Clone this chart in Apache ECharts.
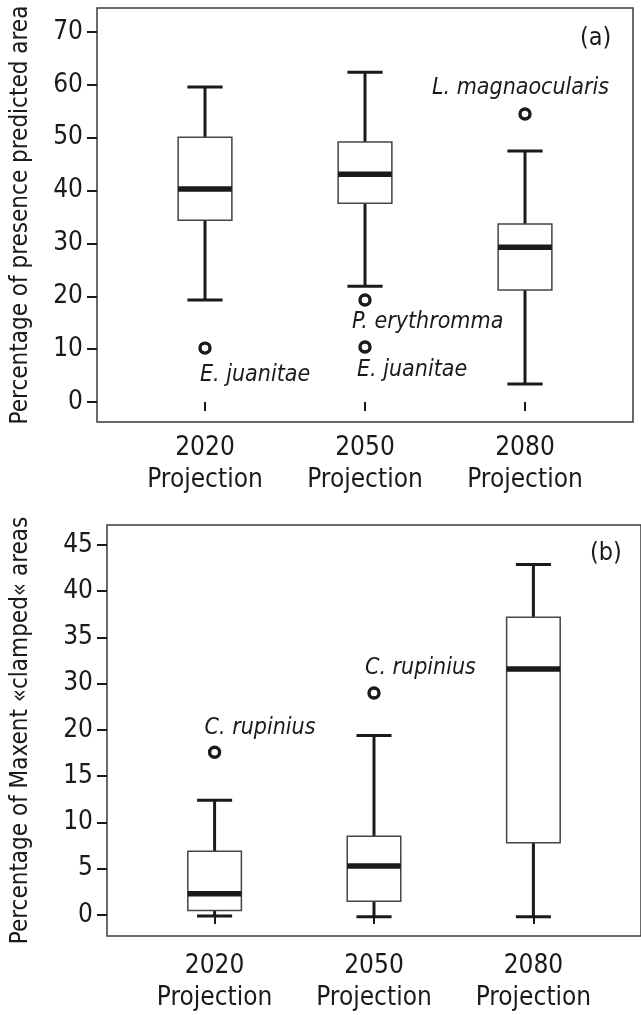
<!DOCTYPE html>
<html>
<head>
    <meta charset="utf-8">
    <title>Projection boxplots</title>
    <script src="https://cdn.jsdelivr.net/npm/echarts@6/dist/echarts.min.js"></script>
    <style>
        html, body { margin: 0; padding: 0; background: #fff; }
        #main { width: 641px; height: 1015px; }
    </style>
</head>
<body>
<div id="main"></div>
<script type="text/javascript">
    // categories
    var years = ['2020', '2050', '2080'];

    // (a) presence predicted area: min, q1, median, q3, max per projection
    var presMin = [19.3, 21.9, 3.4];
    var presQ1 = [34.4, 37.6, 21.2];
    var presMed = [40.3, 43.1, 29.3];
    var presQ3 = [50.1, 49.2, 33.7];
    var presMax = [59.6, 62.4, 47.5];
    var presOutYear = ['2020', '2050', '2050', '2080'];
    var presOutVal = [10.2, 19.3, 10.4, 54.5];
    var presOutName = ['E. juanitae', 'P. erythromma', 'E. juanitae', 'L. magnaocularis'];
    var presTicks = [0, 10, 20, 30, 40, 50, 60, 70];

    // (b) clamped areas (values in axis-position units, tick i sits at i*5)
    var clampMin = [-0.1, -0.2, -0.2];
    var clampQ1 = [0.5, 1.5, 7.8];
    var clampMed = [2.3, 5.3, 26.6];
    var clampQ3 = [6.9, 8.5, 32.2];
    var clampMax = [12.4, 19.4, 37.9];
    var clampOutYear = ['2020', '2050'];
    var clampOutVal = [17.6, 24.0];
    var clampOutName = ['C. rupinius', 'C. rupinius'];
    var clampTicks = [0, 5, 10, 15, 20, 25, 30, 35, 40];
    var clampTickLabels = ['0', '5', '10', '15', '20', '30', '35', '40', '45'];

    var FONT = '"Liberation Sans Narrow", "DejaVu Sans Condensed", "Liberation Sans", sans-serif';
    var INK = '#1a1a1a';

    function boxRows(mn, q1, md, q3, mx) {
        return years.map(function (y, i) {
            return [i + 1, mn[i], q1[i], md[i], q3[i], mx[i]];
        });
    }

    function renderBox(params, api) {
        var x = api.value(0);
        var lo = api.coord([x, api.value(1)]);
        var q1 = api.coord([x, api.value(2)]);
        var md = api.coord([x, api.value(3)]);
        var q3 = api.coord([x, api.value(4)]);
        var hi = api.coord([x, api.value(5)]);
        var unit = api.size([1, 0])[0];
        var bw = unit * 0.168, cw = unit * 0.11;
        var cx = lo[0];
        var thick = { stroke: INK, lineWidth: 3 };
        return {
            type: 'group',
            children: [
                { type: 'line', shape: { x1: cx, y1: q3[1], x2: cx, y2: hi[1] }, style: thick },
                { type: 'line', shape: { x1: cx - cw, y1: hi[1], x2: cx + cw, y2: hi[1] }, style: thick },
                { type: 'line', shape: { x1: cx, y1: q1[1], x2: cx, y2: lo[1] }, style: thick },
                { type: 'line', shape: { x1: cx - cw, y1: lo[1], x2: cx + cw, y2: lo[1] }, style: thick },
                { type: 'rect', shape: { x: cx - bw, y: q3[1], width: bw * 2, height: q1[1] - q3[1] },
                  style: { fill: '#fff', stroke: '#444', lineWidth: 1.5 } },
                { type: 'line', shape: { x1: cx - bw, y1: md[1], x2: cx + bw, y2: md[1] },
                  style: { stroke: INK, lineWidth: 5.5 } }
            ]
        };
    }

    // label offsets around each outlier (style only)
    var presOffsets = [[-5, 27], [-13, 22], [-8, 23], [-93, -26]];
    var clampOffsets = [[-10, -24], [-9, -25]];

    function outlierData(yrs, vals, names, offs) {
        return vals.map(function (v, i) {
            return {
                value: [years.indexOf(yrs[i]) + 1, v],
                name: names[i],
                label: { offset: offs[i] }
            };
        });
    }

    function xAxisCfg(gridIndex, margin) {
        return {
            type: 'value', gridIndex: gridIndex, min: 0.325, max: 3.675,
            splitLine: { show: false },
            axisLine: { show: false },
            axisTick: { show: true, length: 9, customValues: [1, 2, 3],
                        lineStyle: { color: INK, width: 2 } },
            axisLabel: {
                customValues: [1, 2, 3], margin: margin,
                fontFamily: FONT, fontSize: 26, color: INK, lineHeight: 32,
                formatter: function (v) { return years[Math.round(v) - 1] + '\nProjection'; }
            }
        };
    }

    function yAxisCfg(gridIndex, min, max, ticks, fmt, name, gap) {
        return {
            type: 'value', gridIndex: gridIndex, min: min, max: max,
            name: name, nameLocation: 'middle', nameGap: gap,
            nameTextStyle: { fontFamily: FONT, fontSize: 24, color: INK },
            splitLine: { show: false },
            axisLine: { show: false },
            axisTick: { show: true, length: 10, customValues: ticks,
                        lineStyle: { color: INK, width: 2 } },
            axisLabel: { customValues: ticks, margin: 14, fontFamily: FONT, fontSize: 26, color: INK,
                         formatter: fmt }
        };
    }

    var outlierStyle = {
        symbol: 'circle', symbolSize: 10,
        itemStyle: { color: '#fff', borderColor: INK, borderWidth: 3.4, opacity: 1 },
        label: {
            show: true, position: 'inside', align: 'left', verticalAlign: 'middle',
            fontFamily: FONT, fontSize: 23, fontStyle: 'italic', color: INK, opacity: 1,
            formatter: function (p) { return p.name; }
        }
    };

    var chart = echarts.init(document.getElementById('main'), null, { renderer: 'canvas' });
    chart.setOption({
        animation: false,
        backgroundColor: '#fff',
        grid: [
            { left: 97, top: 8, width: 536, height: 414, show: true,
              borderColor: '#3a3a3a', borderWidth: 1.5, backgroundColor: 'transparent' },
            { left: 107, top: 525, width: 538, height: 411, show: true,
              borderColor: '#3a3a3a', borderWidth: 1.5, backgroundColor: 'transparent' }
        ],
        xAxis: [xAxisCfg(0, 10), xAxisCfg(1, 14)],
        yAxis: [
            yAxisCfg(0, -3.78, 74.54, presTicks, function (v) { return String(v); },
                     'Percentage of presence predicted area', 64),
            yAxisCfg(1, -2.27, 42.16, clampTicks,
                     function (v) { return clampTickLabels[clampTicks.indexOf(Math.round(v))]; },
                     'Percentage of Maxent \u00abclamped\u00ab areas', 74)
        ],
        graphic: [
            { type: 'text', left: 580, top: 26, style: { text: '(a)', fontFamily: FONT, fontSize: 25, fill: INK } },
            { type: 'text', left: 590, top: 541, style: { text: '(b)', fontFamily: FONT, fontSize: 25, fill: INK } }
        ],
        series: [
            { type: 'custom', xAxisIndex: 0, yAxisIndex: 0, renderItem: renderBox,
              encode: { x: 0, y: [1, 2, 3, 4, 5] },
              data: boxRows(presMin, presQ1, presMed, presQ3, presMax) },
            echarts.util.merge({ type: 'scatter', xAxisIndex: 0, yAxisIndex: 0,
              data: outlierData(presOutYear, presOutVal, presOutName, presOffsets) }, outlierStyle),
            { type: 'custom', xAxisIndex: 1, yAxisIndex: 1, renderItem: renderBox,
              encode: { x: 0, y: [1, 2, 3, 4, 5] },
              data: boxRows(clampMin, clampQ1, clampMed, clampQ3, clampMax) },
            echarts.util.merge({ type: 'scatter', xAxisIndex: 1, yAxisIndex: 1,
              data: outlierData(clampOutYear, clampOutVal, clampOutName, clampOffsets) }, outlierStyle)
        ]
    });
</script>
</body>
</html>
